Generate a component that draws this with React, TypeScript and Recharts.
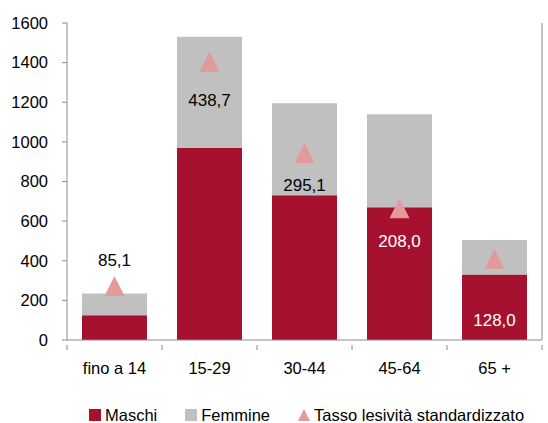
import { ComposedChart, Bar, Line, XAxis, YAxis, Legend, LabelList } from 'recharts';

const categories = ['fino a 14', '15-29', '30-44', '45-64', '65 +'];
const maschi = [125, 970, 730, 670, 330];
const femmine = [110, 560, 465, 470, 175];
const tasso = [85.1, 438.7, 295.1, 208.0, 128.0];
const leftTicks = [0, 200, 400, 600, 800, 1000, 1200, 1400, 1600];
const rightTicks = [0, 100, 200, 300, 400, 500];

const data = categories.map((c, i) => ({
  name: c,
  maschi: maschi[i],
  femmine: femmine[i],
  tasso: tasso[i],
}));

// label placement relative to the triangle, as in the original
const labelDy = [-26, 38, 32, 33, 61];
const labelFill = ['#000', '#000', '#000', '#fff', '#fff'];

const FONT = '"Liberation Sans", Arial, sans-serif';
const RED = '#A6112F';
const GRAY = '#C0C0C0';
const PINK = '#E29A9A';
const AXIS = '#8C8C8C';

// eslint-disable-next-line @typescript-eslint/no-explicit-any
const Triangle = (props: any) => {
  const { cx, cy } = props;
  if (cx == null || cy == null) return null;
  return <path d={`M${cx},${cy - 10}L${cx + 10},${cy + 10}L${cx - 10},${cy + 10}Z`} fill={PINK} />;
};

// eslint-disable-next-line @typescript-eslint/no-explicit-any
const ValueLabel = (props: any) => {
  const { x, y, value, index } = props;
  return (
    <text x={x} y={y + labelDy[index]} dy="0.355em" textAnchor="middle" fill={labelFill[index]}
      fontSize={17} fontFamily={FONT}>
      {Number(value).toFixed(1).replace('.', ',')}
    </text>
  );
};

// eslint-disable-next-line @typescript-eslint/no-explicit-any
const CategoryTick = (props: any) => {
  const { x, y, payload, index } = props;
  const half = payload.offset || 47.5;
  return (
    <g>
      <line x1={x - half} y1={y - 17} x2={x - half} y2={y - 12} stroke={AXIS} />
      {index === categories.length - 1 && (
        <line x1={x + half} y1={y - 17} x2={x + half} y2={y - 12} stroke={AXIS} />
      )}
      <text x={x} y={y} dy="0.71em" textAnchor="middle" fill="#000" fontSize={16.5} fontFamily={FONT}>
        {payload.value}
      </text>
    </g>
  );
};

const renderLegend = () => {
  const item = { display: 'flex', alignItems: 'center', gap: 4 } as const;
  return (
    <div style={{ display: 'flex', paddingLeft: 89, paddingTop: 24, gap: 28, fontFamily: FONT, fontSize: 16.5, lineHeight: '18px', color: '#000' }}>
      <div style={item}>
        <span style={{ width: 12, height: 12, background: RED, display: 'inline-block' }} />
        <span>Maschi</span>
      </div>
      <div style={item}>
        <span style={{ width: 12, height: 12, background: GRAY, display: 'inline-block' }} />
        <span>Femmine</span>
      </div>
      <div style={item}>
        <svg width={12} height={12}><path d="M6,0L12,12L0,12Z" fill={PINK} /></svg>
        <span>Tasso lesività standardizzato</span>
      </div>
    </div>
  );
};

export default function App() {
  return (
    <div style={{ position: 'absolute', left: 0, top: 0, background: '#fff' }}>
      <ComposedChart width={548} height={423} data={data} barCategoryGap={15}
        margin={{ top: 23, right: 0, bottom: 0, left: 0 }}>
        <XAxis dataKey="name" height={42} tickLine={false} tickSize={5} tickMargin={17}
          axisLine={{ stroke: AXIS }} tick={<CategoryTick />} interval={0} />
        <YAxis yAxisId="l" width={67} domain={[0, 1600]} ticks={leftTicks} interval={0}
          axisLine={{ stroke: AXIS }} tickLine={{ stroke: AXIS }} tickSize={5} tickMargin={14}
          tick={{ fill: '#000', fontSize: 16.5, fontFamily: FONT }} />
        <YAxis yAxisId="r" orientation="right" width={6} domain={[0, 500]} ticks={rightTicks} interval={0}
          axisLine={{ stroke: AXIS }} tickLine={{ stroke: AXIS }} tickSize={5} tick={false} />
        <Bar yAxisId="l" dataKey="maschi" name="Maschi" stackId="a" fill={RED} isAnimationActive={false} />
        <Bar yAxisId="l" dataKey="femmine" name="Femmine" stackId="a" fill={GRAY} isAnimationActive={false} />
        <Line yAxisId="r" dataKey="tasso" name="Tasso lesività standardizzato" stroke="none"
          dot={<Triangle />} activeDot={false} isAnimationActive={false}>
          <LabelList dataKey="tasso" content={<ValueLabel />} />
        </Line>
        <Legend verticalAlign="bottom" height={41} content={renderLegend} />
      </ComposedChart>
    </div>
  );
}
